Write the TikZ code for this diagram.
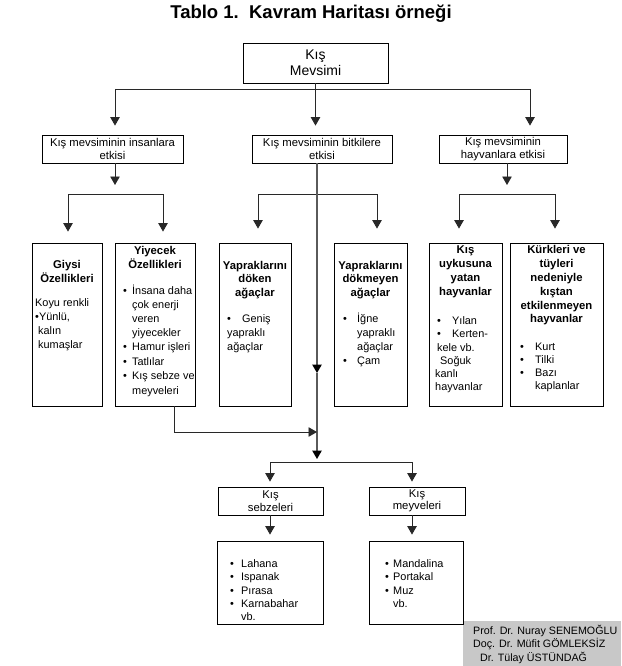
\documentclass[tikz,border=0pt]{standalone}
\usepackage{fontspec}
\setmainfont{Liberation Sans}
\usetikzlibrary{arrows.meta}
\definecolor{sigcol}{RGB}{200,200,200}
\definecolor{linecol}{RGB}{40,40,40}
\definecolor{midcol}{RGB}{90,90,90}
\newcommand\bodyfs{\fontsize{10.9}{14}\selectfont}
\newcommand\headfs{\fontsize{11.3}{14}\selectfont\bfseries}
\newcommand\twofs{\fontsize{11.3}{12.5}\selectfont}
\newcommand\bul[1]{\makebox[#1][l]{•}}
\begin{document}
\begin{tikzpicture}[x=1pt,y=-1pt,
  box/.style={draw=black, line width=0.8pt, inner sep=0pt},
  lbl/.style={box, align=center, font=\twofs},
  txt/.style={font=\bodyfs, inner sep=0pt, anchor=base west},
  hd/.style={font=\headfs, inner sep=0pt, anchor=base},
  ln/.style={draw=linecol, line width=0.9pt},
  arr/.style={ln, -{Triangle[length=8.5pt,width=9.5pt]}},
  midarr/.style={draw=midcol, line width=1.2pt, -{Triangle[length=8.5pt,width=9.5pt,color=black]}},
  sigtxt/.style={font=\fontsize{10.7}{12}\selectfont, inner sep=0pt, anchor=base west}]
\useasboundingbox (0,0) rectangle (621,666);

% title
\node[font=\fontsize{18.5}{20}\selectfont\bfseries, anchor=base, inner sep=0pt] (title) at (311,19) {Tablo 1.\ \ Kavram Haritası örneği};

% signature block
\node[fill=sigcol, inner sep=0pt, minimum width=158pt, minimum height=45pt] (sig) at (542,643.5) {};
\node[sigtxt] (p1) at (473,634) {Prof. Dr. Nuray SENEMOĞLU};
\node[sigtxt] (p2) at (473,647) {Doç. Dr. Müfit GÖMLEKSİZ};
\node[sigtxt] (p3) at (480,661) {Dr. Tülay ÜSTÜNDAĞ};

% top
\node[box, align=center, font=\fontsize{14}{15.5}\selectfont, minimum width=145pt, minimum height=40pt] (top) at (315.5,63) {Kış\\Mevsimi};

% level 2
\node[lbl, minimum width=141pt, minimum height=28pt] (A2) at (112.5,149) {Kış mevsiminin insanlara\\etkisi};
\node[lbl, minimum width=140pt, minimum height=28pt] (B2) at (322,149) {Kış mevsiminin bitkilere\\etkisi};
\node[lbl, minimum width=128pt, minimum height=28pt] (C2) at (503,149) {Kış mevsiminin\\hayvanlara etkisi};

% level 3 boxes
\node[box, minimum width=70pt, minimum height=163pt] (G) at (67,324.5) {};
\node[box, minimum width=80pt, minimum height=163pt] (Y) at (155,324.5) {};
\node[box, minimum width=72pt, minimum height=163pt] (D) at (255,324.5) {};
\node[box, minimum width=73pt, minimum height=163pt] (DM) at (370.5,324.5) {};
\node[box, minimum width=73pt, minimum height=163pt] (U) at (465.5,324.5) {};
\node[box, minimum width=93pt, minimum height=163pt] (K) at (556.5,324.5) {};

% level 4
\node[lbl, minimum width=105pt, minimum height=28pt] (S) at (270.5,501) {Kış\\sebzeleri};
\node[lbl, minimum width=96pt, minimum height=28pt] (M) at (417,501) {Kış\\meyveleri};
\node[box, minimum width=106pt, minimum height=83pt] (SL) at (270,582.5) {};
\node[box, minimum width=94pt, minimum height=83pt] (ML) at (416,582.5) {};

% texts: Giysi
\node[hd] (g1) at (67,268) {Giysi};
\node[hd] (g2) at (67,282) {Özellikleri};
\node[txt] (g3) at (35,306) {Koyu renkli};
\node[txt] (g4) at (35,320) {•Yünlü,};
\node[txt] (g5) at (38,334) {kalın};
\node[txt] (g6) at (38,348) {kumaşlar};

% Yiyecek
\node[hd] (y1) at (155,254) {Yiyecek};
\node[hd] (y2) at (155,268) {Özellikleri};
\node[txt] (y3) at (123,294) {\bul{9pt}İnsana daha};
\node[txt] (y4) at (132,308) {çok enerji};
\node[txt] (y5) at (132,322) {veren};
\node[txt] (y6) at (132,336) {yiyecekler};
\node[txt] (y7) at (123,350) {\bul{9pt}Hamur işleri};
\node[txt] (y8) at (123,365) {\bul{9pt}Tatlılar};
\node[txt] (y9) at (123,379) {\bul{9pt}Kış sebze ve};
\node[txt] (y10) at (132,394) {meyveleri};

% Yapraklarini doken
\node[hd] (d1) at (255,269) {Yapraklarını};
\node[hd] (d2) at (255,282.5) {döken};
\node[hd] (d3) at (255,296) {ağaçlar};
\node[txt] (d4) at (227,322) {\bul{15pt}Geniş};
\node[txt] (d5) at (227,336) {yapraklı};
\node[txt] (d6) at (227,350) {ağaçlar};

% Yapraklarini dokmeyen
\node[hd] (m1) at (370.5,269) {Yapraklarını};
\node[hd] (m2) at (370.5,282.5) {dökmeyen};
\node[hd] (m3) at (370.5,296) {ağaçlar};
\node[txt] (m4) at (343,322) {\bul{14pt}İğne};
\node[txt] (m5) at (357,336) {yapraklı};
\node[txt] (m6) at (357,350) {ağaçlar};
\node[txt] (m7) at (343,364) {\bul{14pt}Çam};

% Kis uykusuna
\node[hd] (u1) at (465.5,253) {Kış};
\node[hd] (u2) at (465.5,267) {uykusuna};
\node[hd] (u3) at (465.5,281) {yatan};
\node[hd] (u4) at (465.5,295) {hayvanlar};
\node[txt] (u5) at (437,324) {\bul{15pt}Yılan};
\node[txt] (u6) at (437,337) {\bul{15pt}Kerten-};
\node[txt] (u7) at (437,351) {kele vb.};
\node[txt] (u8) at (440,364) {Soğuk};
\node[txt] (u9) at (435,377) {kanlı};
\node[txt] (u10) at (435,390) {hayvanlar};

% Kurkleri
\node[hd] (k1) at (556.5,253) {Kürkleri ve};
\node[hd] (k2) at (556.5,267) {tüyleri};
\node[hd] (k3) at (556.5,281) {nedeniyle};
\node[hd] (k4) at (556.5,295) {kıştan};
\node[hd] (k5) at (556.5,309) {etkilenmeyen};
\node[hd] (k6) at (556.5,322) {hayvanlar};
\node[txt] (k7) at (520,350) {\bul{15pt}Kurt};
\node[txt] (k8) at (520,363) {\bul{15pt}Tilki};
\node[txt] (k9) at (520,376) {\bul{15pt}Bazı};
\node[txt] (k10) at (535,389) {kaplanlar};

% bottom lists
\node[txt] (s1) at (230,567) {\bul{11pt}Lahana};
\node[txt] (s2) at (230,580) {\bul{11pt}Ispanak};
\node[txt] (s3) at (230,594) {\bul{11pt}Pırasa};
\node[txt] (s4) at (230,607) {\bul{11pt}Karnabahar};
\node[txt] (s5) at (241,620) {vb.};
\node[txt] (f1) at (385,567) {\bul{8pt}Mandalina};
\node[txt] (f2) at (385,580) {\bul{8pt}Portakal};
\node[txt] (f3) at (385,594) {\bul{8pt}Muz};
\node[txt] (f4) at (393,607) {vb.};

% connectors: top level
\coordinate (hL) at (115,89);
\coordinate (hR) at (530,89);
\draw[ln] (hL) -- (hR);
\draw[arr, shorten >=9pt] (top.south) -- (top.south |- B2.north);
\draw[arr, shorten >=9pt] (hL) -- (hL |- A2.north);
\draw[arr, shorten >=9pt] (hR) -- (hR |- C2.north);

% left branch
\coordinate (aM) at (115,194);
\coordinate (aL) at (68,194);
\coordinate (aR) at (163,194);
\draw[arr, shorten >=9pt] (A2.south -| aM) -- (aM);
\draw[ln] (aL) -- (aR);
\draw[arr, shorten >=11pt] (aL) -- (aL |- G.north);
\draw[arr, shorten >=11pt] (aR) -- (aR |- Y.north);

% middle branch
\coordinate (bM) at (317,194);
\coordinate (bL) at (258,194);
\coordinate (bR) at (377,194);
\draw[ln] (bL) -- (bR);
\draw[arr, shorten >=14pt] (bL) -- (bL |- D.north);
\draw[arr, shorten >=14pt] (bR) -- (bR |- DM.north);
\coordinate (mid) at (317,373);
\coordinate (jn) at (317,432);
\coordinate (cM) at (317,462);
\draw[midarr] (B2.south -| bM) -- (mid);
\draw[midarr, shorten >=3pt] (mid) -- (cM);

% Yiyecek to middle
\coordinate (yb) at (174,432);
\draw[arr] (Y.south -| yb) -- (yb) -- (jn);

% right branch
\coordinate (rM) at (507,194);
\coordinate (rL) at (459,194);
\coordinate (rR) at (555,194);
\draw[arr, shorten >=9pt] (C2.south -| rM) -- (rM);
\draw[ln] (rL) -- (rR);
\draw[arr, shorten >=14pt] (rL) -- (rL |- U.north);
\draw[arr, shorten >=14pt] (rR) -- (rR |- K.north);

% lower branch
\coordinate (cL) at (270,462);
\coordinate (cR) at (412,462);
\draw[ln] (cL) -- (cR);
\draw[arr, shorten >=5pt] (cL) -- (cL |- S.north);
\draw[arr, shorten >=5pt] (cR) -- (cR |- M.north);
\draw[arr, shorten >=6pt] (S.south -| cL) -- (cL |- SL.north);
\draw[arr, shorten >=6pt] (M.south -| cR) -- (cR |- ML.north);
\end{tikzpicture}
\end{document}
